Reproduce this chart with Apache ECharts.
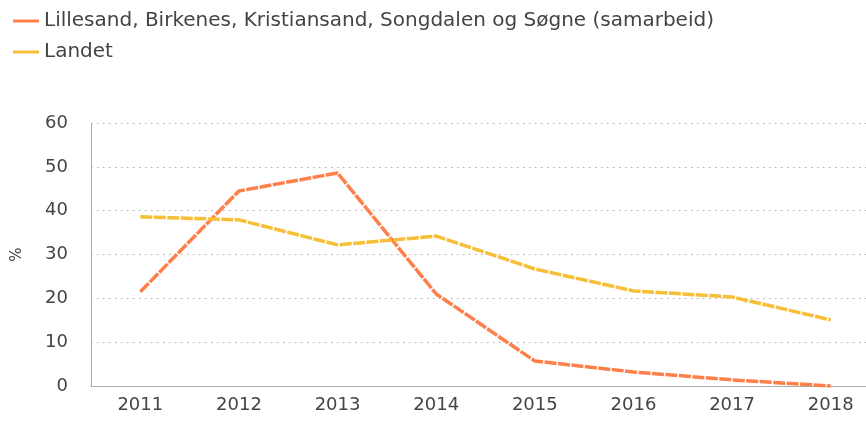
<!DOCTYPE html>
<html>
<head>
<meta charset="utf-8">
<script src="https://cdn.jsdelivr.net/npm/echarts@6/dist/echarts.min.js"></script>
<style>
  html, body { margin: 0; padding: 0; background: #fff; }
  #chart { width: 866px; height: 426px; }
</style>
</head>
<body>
<div id="chart"></div>
<script>
const years = ['2011', '2012', '2013', '2014', '2015', '2016', '2017', '2018']
const samarbeid = [21.5, 44.5, 48.6, 21, 5.7, 3.2, 1.4, 0]
const landet = [38.6, 37.9, 32.2, 34.2, 26.7, 21.7, 20.3, 15.1]

const chart = echarts.init(document.getElementById('chart'))
const font = '"DejaVu Sans", sans-serif'

chart.setOption({
  animation: false,
  textStyle: { fontFamily: font },
  legend: {
    orient: 'vertical',
    left: 8,
    top: 6,
    itemGap: 11,
    itemWidth: 26,
    itemHeight: 3,
    icon: 'rect',
    textStyle: { fontSize: 20, color: '#444', fontFamily: font },
    data: ['Lillesand, Birkenes, Kristiansand, Songdalen og Søgne (samarbeid)', 'Landet']
  },
  grid: {
    left: 91,
    top: 123,
    width: 789,
    height: 263,
    outerBoundsMode: 'none'
  },
  xAxis: {
    type: 'category',
    data: years,
    boundaryGap: true,
    name: 'År',
    nameLocation: 'middle',
    nameGap: 47,
    nameTextStyle: { fontSize: 18, color: '#222' },
    axisLine: { lineStyle: { color: '#aaa' } },
    axisTick: { show: false },
    axisLabel: { fontSize: 18, color: '#444', margin: 10 }
  },
  yAxis: {
    type: 'value',
    min: 0,
    max: 60,
    interval: 10,
    name: '%',
    nameLocation: 'middle',
    nameGap: 66,
    nameRotate: 90,
    nameTextStyle: { fontSize: 15, color: '#444' },
    axisLine: { show: true, lineStyle: { color: '#aaa' } },
    axisTick: { show: false },
    axisLabel: { fontSize: 18, color: '#444', margin: 23 },
    splitLine: { lineStyle: { color: '#aaa', type: [1.5, 4.5] } }
  },
  series: [
    {
      name: 'Lillesand, Birkenes, Kristiansand, Songdalen og Søgne (samarbeid)',
      type: 'line',
      data: samarbeid,
      symbol: 'none',
      color: '#ff7f4a',
      lineStyle: { width: 3.5, type: [12, 1.5] }
    },
    {
      name: 'Landet',
      type: 'line',
      data: landet,
      symbol: 'none',
      color: '#f6bf35',
      lineStyle: { width: 3.5, type: [12, 1.5] }
    }
  ]
})
</script>
</body>
</html>
